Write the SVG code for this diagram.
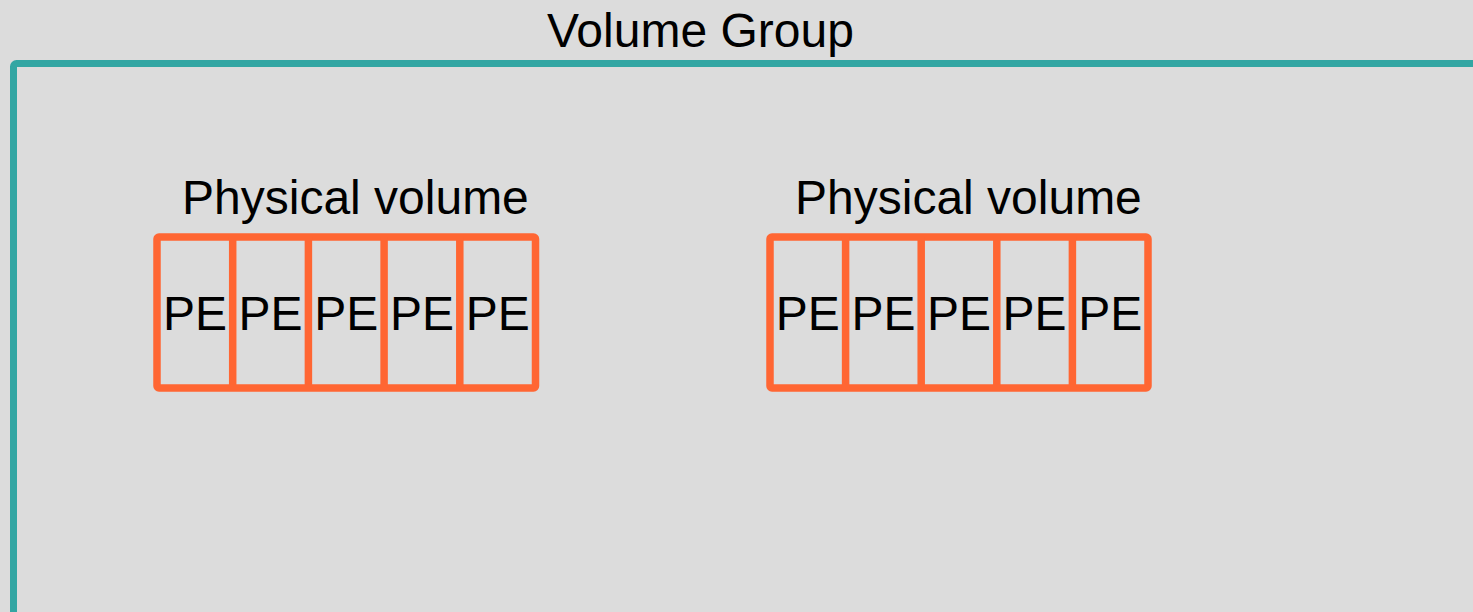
<svg xmlns="http://www.w3.org/2000/svg" width="1473" height="612" viewBox="0 0 1473 612">
  <style>
    .lbl { font-family: "Liberation Sans", Arial, sans-serif; font-size: 48px; fill: #000; }
    .pe { font-family: "Liberation Sans", Arial, sans-serif; font-size: 48px; fill: #000; text-anchor: middle; }
    .pv { fill: none; stroke: #ff6633; stroke-width: 7.5; stroke-linejoin: round; }
    .div { stroke: #ff6633; stroke-width: 7.5; }
  </style>
  <rect x="0" y="0" width="1473" height="612" fill="#dcdcdc"/>
  <g id="volume-group">
    <rect x="13.5" y="63.5" width="1500" height="552" rx="3" fill="none" stroke="#33a6a3" stroke-width="7"/>
    <text class="lbl" x="547" y="47">Volume Group</text>
  </g>
  <g id="pv1">
    <text class="lbl" x="182" y="213.5">Physical volume</text>
    <rect class="pv" x="157" y="237" width="378.5" height="151" rx="2"/>
    <line class="div" x1="232.7" y1="237" x2="232.7" y2="388"/>
    <line class="div" x1="308.4" y1="237" x2="308.4" y2="388"/>
    <line class="div" x1="384.1" y1="237" x2="384.1" y2="388"/>
    <line class="div" x1="459.8" y1="237" x2="459.8" y2="388"/>
    <text class="pe" x="194.9" y="329.5">PE</text>
    <text class="pe" x="270.6" y="329.5">PE</text>
    <text class="pe" x="346.3" y="329.5">PE</text>
    <text class="pe" x="422" y="329.5">PE</text>
    <text class="pe" x="497.7" y="329.5">PE</text>
  </g>
  <g id="pv2">
    <text class="lbl" x="795" y="213.5">Physical volume</text>
    <rect class="pv" x="770" y="237" width="378" height="151" rx="2"/>
    <line class="div" x1="845.6" y1="237" x2="845.6" y2="388"/>
    <line class="div" x1="921.2" y1="237" x2="921.2" y2="388"/>
    <line class="div" x1="996.8" y1="237" x2="996.8" y2="388"/>
    <line class="div" x1="1072.4" y1="237" x2="1072.4" y2="388"/>
    <text class="pe" x="807.8" y="329.5">PE</text>
    <text class="pe" x="883.4" y="329.5">PE</text>
    <text class="pe" x="959" y="329.5">PE</text>
    <text class="pe" x="1034.6" y="329.5">PE</text>
    <text class="pe" x="1110.2" y="329.5">PE</text>
  </g>
  <g id="connectors"></g>
</svg>
